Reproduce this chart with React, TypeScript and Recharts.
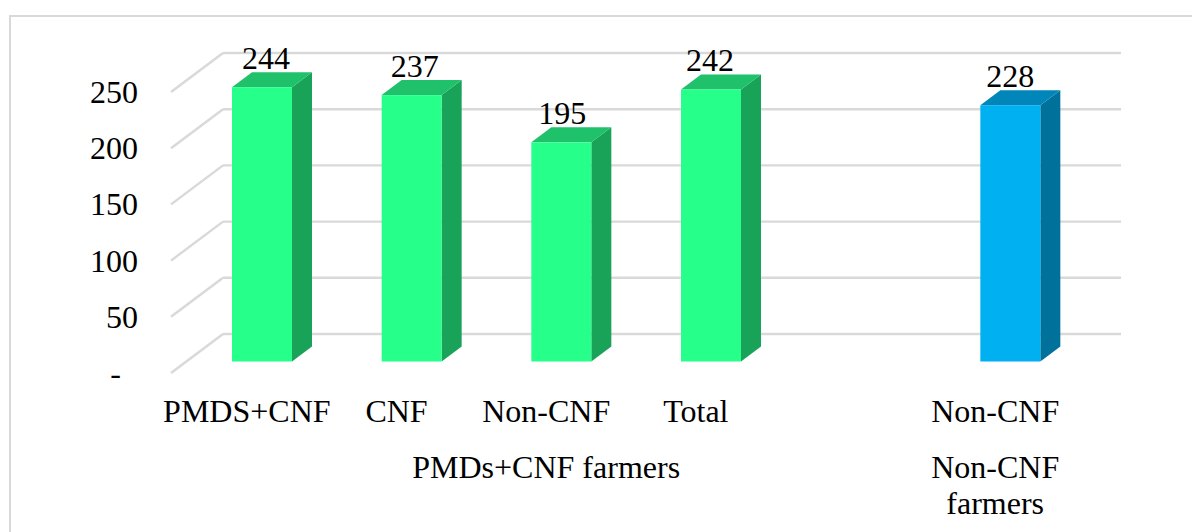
import React from "react";
import { BarChart, Bar, XAxis, YAxis, CartesianGrid, LabelList } from "recharts";

const categories = ["PMDS+CNF", "CNF", "Non-CNF", "Total", "", "Non-CNF"];
const groupLabels = [[], [], ["PMDs+CNF farmers"], [], [], ["Non-CNF", "farmers"]];
const values = [244, 237, 195, 242, null, 228];
const seriesGroups = ["g", "g", "g", "g", "", "b"];
const yTicks = [0, 50, 100, 150, 200, 250];

const data = categories.map((category, i) => ({
  key: String(i),
  category,
  value: values[i],
  tone: seriesGroups[i],
}));

const FONT = "'Liberation Serif', 'Times New Roman', serif";
const FONT_SIZE = 32;
const GRID = "#d9d9d9";
const TONES: Record<string, { front: string; top: string; side: string }> = {
  g: { front: "#26ff8a", top: "#1fc16b", side: "#18a359" },
  b: { front: "#00b0f0", top: "#0086b8", side: "#00719b" },
};
const WALL = { dx: 52, dy: -39 };
const BAR = { dx: 16, dy: -11.5 };
const DEPTH = { dx: 20, dy: -15 };
const labelNudge = [4, 3, 1, -1, 0, -1];

function Bar3D(props: any) {
  const { x, y, width, height, payload } = props;
  if (payload.value == null) return null;
  const t = TONES[payload.tone];
  const l = x + BAR.dx;
  const r = l + width;
  const top = y + BAR.dy;
  const bottom = top + height;
  const { dx, dy } = DEPTH;
  return (
    <g>
      <polygon points={`${r},${top} ${r + dx},${top + dy} ${r + dx},${bottom + dy} ${r},${bottom}`} fill={t.side} />
      <polygon points={`${l},${top} ${l + dx},${top + dy} ${r + dx},${top + dy} ${r},${top}`} fill={t.top} />
      <rect x={l} y={top} width={width} height={height} fill={t.front} />
    </g>
  );
}

function GridLine(props: any) {
  const { x1, x2, y1 } = props;
  return (
    <g stroke={GRID} strokeWidth={2.4} fill="none">
      <line x1={x1} y1={y1} x2={x1 + WALL.dx} y2={y1 + WALL.dy} />
      <line x1={x1 + WALL.dx} y1={y1 + WALL.dy} x2={x2 + WALL.dx} y2={y1 + WALL.dy} />
    </g>
  );
}

function XTick(props: any) {
  const { x, y, payload } = props;
  const i = payload.index;
  return (
    <g fontFamily={FONT} fontSize={FONT_SIZE} fill="#000" textAnchor="middle">
      <text x={x + 1} y={y + 41}>{categories[i]}</text>
      {groupLabels[i].map((line, k) => (
        <text key={k} x={x + 1} y={y + 97 + k * 36}>{line}</text>
      ))}
    </g>
  );
}

function YTick(props: any) {
  const { y, payload } = props;
  return (
    <text x={payload.value === 0 ? 121 : 138} y={y + 11} textAnchor="end" fontFamily={FONT} fontSize={FONT_SIZE} fill="#000">
      {payload.value === 0 ? "-" : payload.value}
    </text>
  );
}

function ValueLabel(props: any) {
  const { x, y, value, index } = props;
  if (value == null) return null;
  return (
    <text
      x={x + 30 + BAR.dx + labelNudge[index]}
      y={y + BAR.dy + DEPTH.dy - 3}
      textAnchor="middle"
      fontFamily={FONT}
      fontSize={FONT_SIZE}
      fill="#000"
    >
      {value}
    </text>
  );
}

export default function App() {
  return (
    <div style={{ position: "absolute", left: 0, top: 0, width: 1192, height: 532, background: "#fff", overflow: "hidden" }}>
      <div style={{ position: "absolute", left: 9, top: 15, width: 1300, height: 600, border: "2px solid #d9d9d9", boxSizing: "border-box" }} />
      <BarChart
        width={1192}
        height={532}
        data={data}
        barCategoryGap={45}
        margin={{ top: 92, right: 123, bottom: 119, left: 131 }}
        style={{ position: "absolute", left: 0, top: 0 }}
      >
        <CartesianGrid horizontal={(p: any) => <GridLine key={p.key} {...p} />} vertical={false} />
        <XAxis dataKey="key" axisLine={false} tickLine={false} tick={(p: any) => <XTick {...p} />} interval={0} height={40} />
        <YAxis domain={[0, 250]} ticks={yTicks} axisLine={false} tickLine={false} width={40} tick={(p: any) => <YTick {...p} />} interval={0} />
        <Bar dataKey="value" barSize={60} isAnimationActive={false} shape={<Bar3D />}>
          <LabelList dataKey="value" content={(p: any) => <ValueLabel {...p} />} />
        </Bar>
      </BarChart>
    </div>
  );
}
